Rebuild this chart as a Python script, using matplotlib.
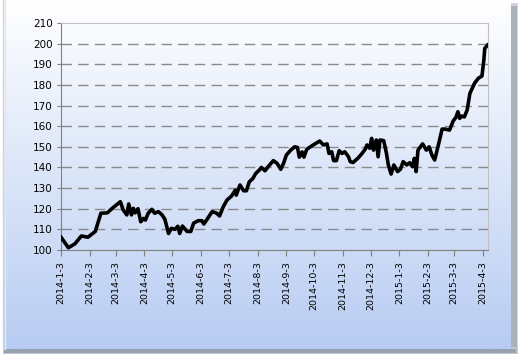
import numpy as np
import pandas as pd
import matplotlib
matplotlib.use("Agg")
import matplotlib.pyplot as plt
from matplotlib.patches import Rectangle

# index values
dates = [
    "2014-01-03", "2014-01-11", "2014-01-18", "2014-01-25", "2014-02-01", "2014-02-09",
    "2014-02-15", "2014-02-22", "2014-02-28", "2014-03-08", "2014-03-11", "2014-03-15",
    "2014-03-17", "2014-03-20", "2014-03-22", "2014-03-24", "2014-03-27", "2014-03-30",
    "2014-04-02", "2014-04-04", "2014-04-07", "2014-04-11", "2014-04-14", "2014-04-18",
    "2014-04-22", "2014-04-25", "2014-04-29", "2014-05-02", "2014-05-06", "2014-05-09",
    "2014-05-11", "2014-05-14", "2014-05-19", "2014-05-23", "2014-05-26", "2014-05-31",
    "2014-06-04", "2014-06-06", "2014-06-09", "2014-06-15", "2014-06-20", "2014-06-23",
    "2014-06-27", "2014-07-01", "2014-07-06", "2014-07-10", "2014-07-11", "2014-07-15",
    "2014-07-19", "2014-07-22", "2014-07-25", "2014-07-29", "2014-08-01", "2014-08-05",
    "2014-08-07", "2014-08-11", "2014-08-15", "2014-08-20", "2014-08-24", "2014-08-28",
    "2014-08-31", "2014-09-03", "2014-09-08", "2014-09-12", "2014-09-15", "2014-09-17",
    "2014-09-20", "2014-09-22", "2014-09-25", "2014-10-02", "2014-10-09", "2014-10-13",
    "2014-10-17", "2014-10-19", "2014-10-22", "2014-10-24", "2014-10-27", "2014-10-30",
    "2014-11-02", "2014-11-05", "2014-11-09", "2014-11-11", "2014-11-14", "2014-11-19",
    "2014-11-23", "2014-11-27", "2014-11-29", "2014-12-02", "2014-12-04", "2014-12-06",
    "2014-12-09", "2014-12-11", "2014-12-13", "2014-12-17", "2014-12-20", "2014-12-22",
    "2014-12-25", "2014-12-28", "2015-01-01", "2015-01-04", "2015-01-07", "2015-01-11",
    "2015-01-14", "2015-01-17", "2015-01-19", "2015-01-21", "2015-01-23", "2015-01-28",
    "2015-02-01", "2015-02-04", "2015-02-07", "2015-02-10", "2015-02-14", "2015-02-18",
    "2015-02-21", "2015-02-26", "2015-03-02", "2015-03-05", "2015-03-07", "2015-03-09",
    "2015-03-11", "2015-03-14", "2015-03-17", "2015-03-20", "2015-03-25", "2015-03-29",
    "2015-04-02", "2015-04-04", "2015-04-05", "2015-04-08",
]
values = [
    106.2, 101.1, 103.0, 106.8, 106.2, 109.0,
    117.8, 118.0, 120.5, 123.4, 119.5, 117.0,
    122.3, 117.0, 120.2, 118.0, 120.0, 113.7,
    115.3, 114.5, 117.8, 119.7, 117.8, 118.6,
    117.0, 114.9, 108.0, 110.5, 110.0, 111.5,
    108.0, 111.6, 109.0, 109.0, 113.0, 114.2,
    114.2, 112.6, 114.5, 118.6, 117.8, 116.5,
    121.0, 124.2, 126.2, 129.0, 126.6, 131.5,
    128.7, 128.7, 133.0, 134.7, 137.1, 138.8,
    140.0, 138.4, 140.7, 143.3, 142.0, 139.1,
    142.0, 146.0, 148.5, 150.0, 149.7, 145.0,
    147.5, 145.0, 148.8, 150.9, 152.8, 150.9,
    151.4, 146.8, 147.6, 143.3, 143.3, 148.1,
    146.8, 147.6, 145.2, 142.8, 142.4, 144.4,
    146.4, 148.8, 150.9, 149.3, 154.1, 148.4,
    153.3, 145.2, 153.3, 153.0, 146.8, 141.2,
    136.8, 141.2, 138.0, 139.1, 142.8, 141.2,
    142.3, 140.4, 144.4, 138.0, 148.4, 151.4,
    148.4, 150.0, 146.0, 143.6, 150.9, 158.6,
    158.6, 158.1, 162.6, 164.3, 167.0, 163.8,
    164.9, 164.5, 167.8, 175.9, 180.8, 183.2,
    184.3, 192.0, 197.7, 199.3,
]
tick_dates = [
    "2014-01-03", "2014-02-03", "2014-03-03", "2014-04-03", "2014-05-03",
    "2014-06-03", "2014-07-03", "2014-08-03", "2014-09-03", "2014-10-03",
    "2014-11-03", "2014-12-03", "2015-01-03", "2015-02-03", "2015-03-03",
    "2015-04-03",
]
tick_labels = [
    "2014-1-3", "2014-2-3", "2014-3-3", "2014-4-3", "2014-5-3", "2014-6-3",
    "2014-7-3", "2014-8-3", "2014-9-3", "2014-10-3", "2014-11-3", "2014-12-3",
    "2015-1-3", "2015-2-3", "2015-3-3", "2015-4-3",
]
y_ticks = list(range(100, 211, 10))

x = pd.to_datetime(dates)
xt = pd.to_datetime(tick_dates)

W, H = 520, 356
fig = plt.figure(figsize=(W / 100, H / 100), dpi=100)
fig.patch.set_facecolor("white")

# background: bevelled chart area with a vertical white-to-blue gradient
bg = fig.add_axes([0, 0, 1, 1])
bg.set_xlim(0, W)
bg.set_ylim(H, 0)
bg.axis("off")
bg.add_patch(Rectangle((509, 3), 9, 351, color="#d2d6dd", lw=0))
bg.add_patch(Rectangle((511, 6), 6, 347, color="#aab1bd", lw=0))
bg.add_patch(Rectangle((3, 347), 515, 7, color="#c0c6d0", lw=0))
bg.add_patch(Rectangle((4, 349), 512, 4, color="#98a1b0", lw=0))
grad = np.linspace(0, 1, 256).reshape(-1, 1)
top = np.array([1.0, 1.0, 1.0])
bot = np.array([0.72, 0.80, 0.95])
img = top + (bot - top) * grad[:, :, None]
bg.imshow(img, extent=(3, 511, 349, 0), aspect="auto", zorder=1)
bg.plot([3, 3], [0, 349], color="#d0d4da", lw=1, zorder=2)
bg.plot([5, 5], [0, 349], color="#e4e8ee", lw=1, zorder=2)

ax = fig.add_axes([61 / W, 1 - 250 / H, 427 / W, 227 / H])
ax.patch.set_alpha(0)

ax.plot(x, values, color="black", lw=2.6, solid_joinstyle="round", zorder=3)

ax.set_ylim(100, 210)
ax.set_yticks(y_ticks)
ax.set_xlim(pd.Timestamp("2014-01-03"), pd.Timestamp("2015-04-08 12:00"))
ax.set_xticks(xt)
ax.set_xticklabels(tick_labels, rotation=90, fontsize=6.8)
ax.tick_params(axis="y", labelsize=7.5, length=3, color="#808080", pad=3)
ax.tick_params(axis="x", length=4, color="#808080", pad=4)

for v in y_ticks[1:-1]:
    ax.axhline(v, color="#8a8a8a", lw=1, ls=(0, (7.5, 4.5)), zorder=1)

for s in ["left", "bottom"]:
    ax.spines[s].set_color("#808080")
for s in ["top", "right"]:
    ax.spines[s].set_color("#c0c0c0")

fig.savefig("out.png", dpi=100)
